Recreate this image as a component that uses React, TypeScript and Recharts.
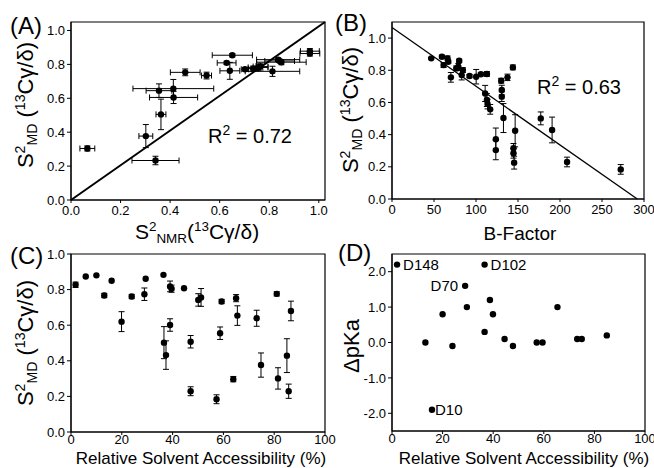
import React from "react"
import { ErrorBar, ReferenceArea, ReferenceLine, Scatter, ScatterChart, XAxis, YAxis } from "recharts"

const FONT = "'Liberation Sans', Arial, Helvetica, sans-serif"

// (A) S2 NMR vs S2 MD: [nmr, md, errNmr, errMd]
const panelA = [
  [0.066, 0.304, 0.03, 0.015],
  [0.341, 0.233, 0.095, 0.025],
  [0.302, 0.377, 0.028, 0.068],
  [0.363, 0.505, 0.02, 0.09],
  [0.355, 0.645, 0.052, 0.04],
  [0.413, 0.657, 0.163, 0.054],
  [0.414, 0.605, 0.097, 0.036],
  [0.461, 0.753, 0.06, 0.02],
  [0.547, 0.734, 0.02, 0.02],
  [0.651, 0.854, 0.081, 0.01],
  [0.628, 0.809, 0.038, 0.01],
  [0.641, 0.762, 0.04, 0.05],
  [0.702, 0.771, 0.015, 0.01],
  [0.735, 0.775, 0.02, 0.015],
  [0.755, 0.782, 0.04, 0.02],
  [0.765, 0.787, 0.03, 0.02],
  [0.813, 0.759, 0.11, 0.03],
  [0.836, 0.828, 0.087, 0.01],
  [0.849, 0.813, 0.1, 0.015],
  [0.842, 0.82, 0.06, 0.01],
  [0.964, 0.878, 0.038, 0.015],
  [0.964, 0.864, 0.04, 0.015],
]

// (B) B-factor vs S2 MD: [bfactor, md, errMd]
const panelB = [
  [46.7, 0.874, 0.005], [59.4, 0.884, 0.01], [61.4, 0.832, 0.015], [66.1, 0.874, 0.015],
  [67, 0.853, 0.01], [70.1, 0.756, 0.03], [76.5, 0.812, 0.015], [80, 0.859, 0.01],
  [79, 0.822, 0.02], [84.4, 0.801, 0.015], [83, 0.77, 0.03], [92.3, 0.764, 0.01],
  [100.2, 0.76, 0.045], [105.8, 0.775, 0.01], [113, 0.777, 0.015], [110.9, 0.656, 0.05],
  [113, 0.615, 0.04], [113.8, 0.59, 0.03], [116.9, 0.557, 0.03], [123.6, 0.371, 0.07],
  [123.6, 0.304, 0.06], [130, 0.735, 0.015], [130.7, 0.677, 0.03], [130.7, 0.636, 0.03],
  [132.7, 0.503, 0.09], [137.5, 0.756, 0.02], [143.9, 0.818, 0.015], [144.6, 0.315, 0.03],
  [144.6, 0.284, 0.03], [145.4, 0.226, 0.04], [146.6, 0.424, 0.1], [177.1, 0.501, 0.04],
  [190.6, 0.429, 0.08], [208.4, 0.23, 0.03], [272.3, 0.184, 0.03],
]

// (C) accessibility vs S2 MD: [access, md, errMd]
const panelC = [
  [1.8, 0.827, 0.015], [5.8, 0.874, 0], [10, 0.88, 0], [13.1, 0.767, 0.012],
  [16, 0.85, 0], [19.9, 0.62, 0.056], [23.9, 0.761, 0.012], [28.9, 0.774, 0.035],
  [29.4, 0.861, 0], [36.4, 0.883, 0], [36.6, 0.502, 0.09], [37.4, 0.432, 0.08],
  [39, 0.601, 0.035], [39, 0.818, 0.03], [39.6, 0.805, 0.02], [44.5, 0.808, 0],
  [47.1, 0.507, 0.035], [47.1, 0.229, 0.025], [50.1, 0.742, 0.035], [51.2, 0.756, 0.05],
  [57.3, 0.184, 0.025], [58.7, 0.555, 0.035], [59.3, 0.733, 0.012], [63.9, 0.297, 0.015],
  [65, 0.752, 0.02], [65.5, 0.654, 0.055], [73.1, 0.639, 0.045], [74.8, 0.376, 0.068],
  [81.5, 0.301, 0.06], [81, 0.776, 0.012], [85, 0.429, 0.095], [85.7, 0.229, 0.04],
  [86.6, 0.68, 0.055],
]

// (D) accessibility vs delta pKa: [access, dpKa, label]
const panelD: [number, number, string][] = [
  [2, 2.2, "D148"], [36.6, 2.2, "D102"], [28.9, 1.6, "D70"], [29.6, 1.0, ""],
  [20, 0.8, ""], [13.2, 0.0, ""], [23.9, -0.1, ""], [36.6, 0.3, ""],
  [38.7, 1.2, ""], [39.9, 0.8, ""], [44.5, 0.1, ""], [47.8, -0.1, ""],
  [57.2, 0.0, ""], [59.5, 0.0, ""], [65.4, 1.0, ""], [73.2, 0.1, ""],
  [75, 0.1, ""], [84.9, 0.2, ""], [15.8, -1.9, "D10"],
]

const ticksS2 = [0, 0.2, 0.4, 0.6, 0.8, 1.0]
const ticksBFactor = [0, 50, 100, 150, 200, 250, 300]
const ticksAccess = [0, 20, 40, 60, 80, 100]
const ticksPka = [-2, -1, 0, 1, 2]

const dataA = panelA.map(([x, y, ex, ey]) => ({ x, y, ex, ey }))
const dataB = panelB.map(([x, y, ey]) => ({ x, y, ey }))
const dataC = panelC.map(([x, y, ey]) => ({ x, y, ey }))
const dataD = panelD.map(([x, y, name]) => ({ x, y, name }))

const tickStyle = { fill: "#000", fontSize: 13, fontFamily: FONT }
const fmt1 = (v: number) => v.toFixed(1)

const Dot = (props: any) => <circle cx={props.cx} cy={props.cy} r={3.2} fill="#000" />

const LabeledDot = (props: any) => {
  const { cx, cy, payload } = props
  const name = payload?.name
  const left = name === "D70"
  return (
    <g>
      <circle cx={cx} cy={cy} r={3.2} fill="#000" />
      {name ? (
        <text
          x={left ? cx - 7 : cx + (name === "D10" ? 3 : 6)}
          y={cy + 5}
          textAnchor={left ? "end" : "start"}
          fontSize={15}
          fontFamily={FONT}
          fill="#000"
        >
          {name}
        </text>
      ) : null}
    </g>
  )
}

function axes(xd: number[], yd: number[], xt: number[], yt: number[], yw: number, xGap: number, xf?: (v: number) => string) {
  return [
    <XAxis
      key="x"
      type="number"
      dataKey="x"
      domain={xd}
      ticks={xt}
      tickFormatter={xf}
      allowDataOverflow
      height={20}
      tickSize={3}
      tickMargin={xGap}
      stroke="#000"
      tick={tickStyle}
      interval={0}
    />,
    <YAxis
      key="y"
      type="number"
      dataKey="y"
      domain={yd}
      ticks={yt}
      tickFormatter={fmt1}
      allowDataOverflow
      width={yw}
      tickSize={4}
      stroke="#000"
      tick={tickStyle}
      interval={0}
    />,
    <ReferenceArea
      key="frame"
      x1={xd[0]}
      x2={xd[1]}
      y1={yd[0]}
      y2={yd[1]}
      fill="none"
      fillOpacity={0}
      stroke="#000"
      strokeWidth={1.2}
      ifOverflow="visible"
    />,
  ]
}

type Seg = [string, number]

function Rich({ segs, size, small = 0.64, ...rest }: { segs: Seg[]; size: number; small?: number; [k: string]: any }) {
  let cur = 0
  return (
    <text fontSize={size} fontFamily={FONT} fill="#000" {...rest}>
      {segs.map(([t, k], i) => {
        const target = k === 1 ? -0.38 * size : k === -1 ? 0.2 * size : 0
        const dy = target - cur
        cur = target
        return (
          <tspan key={i} dy={dy} fontSize={k ? size * small : size}>
            {t}
          </tspan>
        )
      })}
    </text>
  )
}

const s2mdLabel: Seg[] = [["S", 0], ["2", 1], ["MD", -1], [" (", 0], ["13", 1], ["Cγ/δ)", 0]]
const s2nmrLabel: Seg[] = [["S", 0], ["2", 1], ["NMR", -1], ["(", 0], ["13", 1], ["Cγ/δ)", 0]]

export default function App() {
  return (
    <div style={{ position: "absolute", left: 0, top: 0, width: 654, height: 468, background: "#fff", overflow: "hidden" }}>
      <div style={{ position: "absolute", left: 0, top: 0 }}>
        <ScatterChart width={340} height={220} margin={{ top: 22, right: 15, bottom: 0, left: 0 }}>
          {axes([0, 1.025], [0, 1.05], ticksS2, ticksS2, 71, 3, fmt1)}
          <ReferenceLine segment={[{ x: 0, y: 0 }, { x: 1.025, y: 1.05 }]} stroke="#000" strokeWidth={2} />
          <Scatter data={dataA} shape={Dot} isAnimationActive={false}>
            <ErrorBar dataKey="ex" direction="x" width={3} stroke="#000" strokeWidth={1} isAnimationActive={false} />
            <ErrorBar dataKey="ey" direction="y" width={3} stroke="#000" strokeWidth={1} isAnimationActive={false} />
          </Scatter>
        </ScatterChart>
      </div>
      <div style={{ position: "absolute", left: 330, top: 0 }}>
        <ScatterChart width={324} height={219} margin={{ top: 22, right: 10, bottom: 0, left: 0 }}>
          {axes([0, 300], [0, 1.1], ticksBFactor, ticksS2, 62, 3)}
          <ReferenceLine segment={[{ x: 0, y: 1.066 }, { x: 292, y: 0 }]} stroke="#000" strokeWidth={1.3} />
          <Scatter data={dataB} shape={Dot} isAnimationActive={false}>
            <ErrorBar dataKey="ey" direction="y" width={3} stroke="#000" strokeWidth={1} isAnimationActive={false} />
          </Scatter>
        </ScatterChart>
      </div>
      <div style={{ position: "absolute", left: 0, top: 234 }}>
        <ScatterChart width={340} height={218} margin={{ top: 20, right: 15, bottom: 0, left: 0 }}>
          {axes([0, 100], [0, 1], ticksAccess, ticksS2, 71, 0)}
          <Scatter data={dataC} shape={Dot} isAnimationActive={false}>
            <ErrorBar dataKey="ey" direction="y" width={3} stroke="#000" strokeWidth={1} isAnimationActive={false} />
          </Scatter>
        </ScatterChart>
      </div>
      <div style={{ position: "absolute", left: 330, top: 234 }}>
        <ScatterChart width={324} height={217} margin={{ top: 20, right: 9, bottom: 0, left: 0 }}>
          {axes([0, 100], [-2.5, 2.5], ticksAccess, ticksPka, 62, 0)}
          <Scatter data={dataD} shape={LabeledDot} isAnimationActive={false} />
        </ScatterChart>
      </div>

      <svg width={654} height={468} style={{ position: "absolute", left: 0, top: 0, pointerEvents: "none" }}>
        <text x={10} y={34} fontSize={24} fontFamily={FONT} fill="#000">(A)</text>
        <text x={335} y={31} fontSize={24} fontFamily={FONT} fill="#000">(B)</text>
        <text x={10} y={264} fontSize={24} fontFamily={FONT} fill="#000">(C)</text>
        <text x={338} y={261} fontSize={24} fontFamily={FONT} fill="#000">(D)</text>

        <Rich segs={[["R", 0], ["2", 1], [" = 0.72", 0]]} size={20} small={0.7} x={208} y={143} />
        <Rich segs={[["R", 0], ["2", 1], [" = 0.63", 0]]} size={20} small={0.7} x={537} y={94} />

        <Rich segs={s2mdLabel} size={22} textAnchor="middle" transform="translate(33,105) rotate(-90)" />
        <Rich segs={s2mdLabel} size={22} textAnchor="middle" transform="translate(358,110) rotate(-90)" />
        <Rich segs={s2mdLabel} size={22} textAnchor="middle" transform="translate(33,343) rotate(-90)" />
        <text fontSize={22} fontFamily={FONT} fill="#000" textAnchor="middle" transform="translate(359,346) rotate(-90)">ΔpKa</text>

        <Rich segs={s2nmrLabel} size={21} textAnchor="middle" x={197} y={239} />
        <text x={520} y={240} fontSize={19} fontFamily={FONT} fill="#000" textAnchor="middle">B-Factor</text>
        <text x={201} y={464} fontSize={17} fontFamily={FONT} fill="#000" textAnchor="middle">Relative Solvent Accessibility (%)</text>
        <text x={524} y={464} fontSize={17} fontFamily={FONT} fill="#000" textAnchor="middle">Relative Solvent Accessibility (%)</text>
      </svg>
    </div>
  )
}
